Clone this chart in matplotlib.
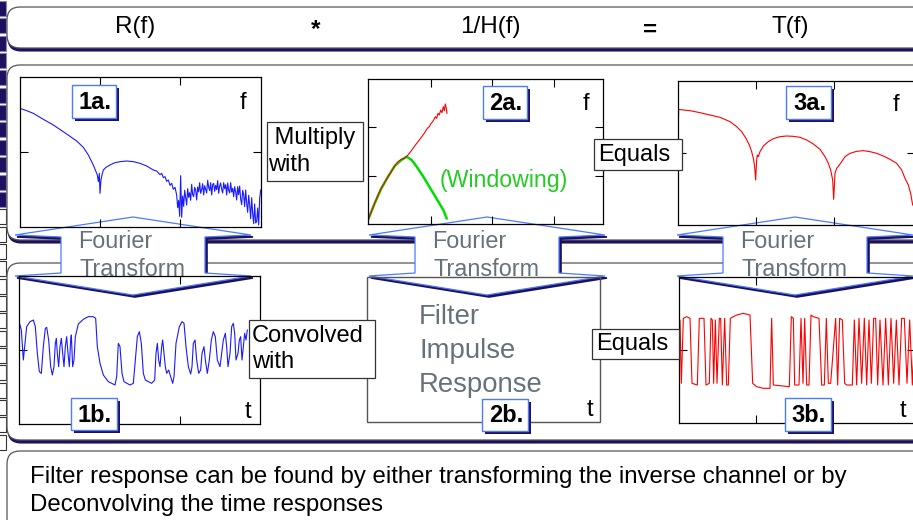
import numpy as np
import matplotlib
matplotlib.use("Agg")
import matplotlib.pyplot as plt
from matplotlib.patches import FancyBboxPatch, Polygon, Rectangle

plt.rcParams['font.family'] = ['Liberation Sans', 'DejaVu Sans']

# ---------------- data ----------------
# 1a: received spectrum R(f)  (frequency bin, level dB)
r_f = [0, 0, 20, 40, 70, 100, 140, 170, 190, 205, 215, 222, 228, 232, 235, 238, 240, 243,
       246, 250, 258, 270, 285, 300, 320, 340, 360, 380, 400, 410, 420, 425, 430, 435, 440,
       445, 450, 455, 460, 465,
       470, 473, 476, 479, 482, 485, 488, 491, 494, 497, 500, 503, 506, 509, 512, 515, 518,
       521, 524, 527, 530, 533, 536, 539, 542, 545, 548, 551, 554, 557, 560, 563, 566, 569,
       572, 575, 578, 581, 584, 587, 590, 593, 596, 599, 602, 605, 608, 611, 614, 617, 620,
       623, 626, 629, 632, 635, 638, 641, 644, 647, 650, 653, 656, 659, 662, 665, 668, 671,
       674, 677, 680, 683, 686, 689, 692, 695, 698, 701, 704, 707, 710, 713, 716, 719, 722]
r_db = [-19.0, -14.5, -15.2, -16.0, -17.8, -19.5, -22.2, -24.3, -26.2, -28.5, -30.5, -32.0,
        -33.5, -34.5, -36.5, -34.0, -40.0, -36.0, -34.5, -33.0, -32.2, -31.5, -30.8, -30.5,
        -30.3, -30.5, -31.0, -31.8, -33.0, -33.3, -34.4, -34.0, -35.3, -35.0, -36.4, -36.0,
        -37.6, -37.0, -38.8, -38.2,
        -40.5, -44.3, -42.1, -46.9, -34.7, -47.2, -40.8, -43.9, -39.1, -41.3, -43.5, -38.6,
        -41.2, -39.8, -42.1, -37.3, -40.4, -41.0, -38.2, -39.0, -42.0, -38.1, -39.6, -36.8,
        -40.0, -38.9, -37.1, -40.5, -37.7, -38.8, -39.9, -36.1, -38.2, -39.2, -36.8, -40.5,
        -37.4, -37.0, -39.4, -37.6, -38.9, -36.2, -40.0, -37.8, -36.9, -38.8, -39.9, -36.8,
        -38.6, -37.4, -40.5, -36.9, -39.1, -39.9, -36.8, -39.6, -38.5, -41.0, -38.0, -39.6,
        -42.0, -38.0, -40.4, -37.8, -41.7, -43.4, -39.1, -40.4, -44.0, -39.0, -42.8, -45.7,
        -40.6, -43.5, -47.6, -41.3, -46.1, -49.1, -43.2, -48.9, -48.5, -44.4, -49.5, -41.5,
        -39.0]

# 2a: inverse channel 1/H(f) and its windowed version
h_f = [0, 10, 20, 30, 40, 50, 60, 70, 80, 90, 100, 110, 120, 130, 140, 150, 160, 170,
       178, 184, 188, 194, 198, 202, 206, 210, 214, 218, 222, 226, 229, 232, 235, 237]
h_db = [-48.0, -45.5, -43.0, -40.5, -38.5, -36.8, -35.0, -33.5, -31.8, -30.5, -29.8, -29.5,
        -28.5, -27.2, -25.8, -24.5, -23.2, -21.8, -20.5, -20.0, -19.2, -18.5, -17.8, -17.0,
        -17.5, -16.0, -16.5, -15.0, -15.8, -14.0, -15.2, -13.2, -14.5, -16.0]
w_f = [0, 20, 40, 60, 80, 100, 116, 131, 146, 166, 181, 196, 211, 226, 236]
w_db = [-48.0, -43.0, -38.5, -35.0, -31.8, -30.0, -29.0, -30.0, -32.0, -35.0, -37.5,
        -40.0, -42.5, -45.0, -47.5]

# 3a: equalised spectrum T(f)
t_f = [1, 2, 16, 36, 66, 96, 126, 156, 176, 191, 204, 214, 221, 226, 230, 233, 236, 238,
       241, 246, 256, 271, 286, 306, 326, 346, 366, 386, 406, 426, 441, 451, 458, 464, 467,
       471, 476, 484, 491, 501, 516, 536, 556, 576, 596, 616, 636, 656, 671, 681, 691, 698,
       704]
t_db = [-19.5, -14.8, -15.0, -15.2, -15.8, -16.5, -17.2, -18.5, -20.0, -21.5, -23.5,
        -25.5, -27.5, -29.5, -32.0, -36.0, -30.0, -28.5, -29.0, -27.5, -25.8, -24.5, -23.6,
        -23.0, -22.8, -22.9, -23.2, -24.0, -25.2, -26.8, -29.0, -31.0, -33.0, -36.0, -41.8,
        -34.0, -32.5, -31.5, -30.5, -29.0, -28.0, -27.4, -27.2, -27.5, -28.0, -28.8, -29.8,
        -31.0, -33.0, -35.5, -37.5, -40.0, -43.5]

# 1b: received time signal (sample, amplitude)
rx_t = [1, 7, 13, 17, 23, 33, 43, 49, 55, 61, 67, 73, 79, 83, 89, 95, 100, 105, 109, 112,
        115, 119, 123, 127, 131, 135, 139, 143, 147, 151, 155, 157, 161, 165, 169, 178, 193,
        208, 223, 230, 235, 243, 253, 268, 288, 293, 298, 303, 309, 315, 333, 343, 349, 355,
        361, 367, 373, 379, 398, 407, 411, 415, 419, 423, 428, 431, 435, 439, 443, 449, 455,
        461, 465, 471, 481, 489, 495, 501, 508, 515, 519, 523, 528, 533, 539, 545, 549, 555,
        559, 565, 571, 577, 583, 589, 595, 603, 608, 613, 619, 623, 627, 633, 638, 643, 647,
        651, 657, 661, 665, 669, 673, 677, 681, 685]
rx_a = [0.92, 0.70, -0.20, 0.20, 0.80, 0.95, 1.00, 0.80, 0.00, -0.55, -0.60, 0.20, 0.75,
        0.78, 0.40, -0.40, -0.65, -0.40, 0.30, 0.45, 0.00, -0.40, 0.20, 0.45, 0.00, -0.40,
        0.20, 0.50, 0.00, -0.40, 0.40, 0.55, -0.40, -0.20, 0.50, 0.88, 1.02, 1.10, 1.10,
        1.05, 0.20, -0.30, -0.65, -0.85, -0.95, -0.70, 0.30, 0.20, -0.60, -0.85, -0.95,
        -0.90, -0.20, 0.50, 0.65, 0.30, -0.60, -0.80, -0.90, -0.80, 0.00, 0.30, -0.20,
        -0.40, 0.20, 0.40, 0.00, -0.40, -0.60, -0.50, -0.70, -0.90, -0.70, 0.30, 0.80,
        0.95, 0.90, 0.20, -0.40, -0.62, -0.40, 0.30, 0.40, -0.20, -0.60, -0.50, 0.00, 0.20,
        -0.20, -0.60, -0.20, 0.40, 0.65, 0.50, -0.20, -0.40, 0.00, 0.40, 0.60, 0.20, -0.40,
        0.00, 0.80, 0.90, 0.60, -0.20, 0.00, 0.40, 0.50, -0.20, 0.20, 0.60, 0.40, 0.70]

# 3b: equalised time signal (sample, amplitude)
eq_t = [0, 3, 7, 13, 23, 33, 39, 55, 61, 75, 81, 91, 96, 100, 104, 109, 114, 121, 125,
        130, 137, 143, 148, 154, 173, 193, 213, 221, 233, 253, 273, 278, 283, 331, 337,
        343, 347, 360, 366, 372, 377, 383, 390, 396, 402, 420, 428, 436, 442, 448, 455,
        470, 476, 482, 490, 497, 503, 520, 526, 533, 540, 548, 556, 563, 570, 577, 584,
        590, 596, 603, 612, 620, 628, 636, 644, 652, 660, 668, 676, 684, 692, 700, 708]
eq_a = [-0.60, 1.00, -0.90, 1.05, 1.10, 1.05, -0.90, -0.95, 1.05, 1.05, -0.95, -0.90,
        1.05, 1.00, -0.90, 1.00, -0.90, 1.05, 1.05, -0.95, 1.05, -0.95, -0.95, 1.05, 1.15,
        1.20, 1.15, -0.90, -1.00, -1.05, -1.05, 1.05, -0.95, -1.00, 1.10, 1.05, -0.95,
        -0.95, 1.05, -0.90, 1.05, -0.95, -0.95, 1.15, 1.10, 1.05, -0.95, -0.95, 1.05,
        -0.90, -0.90, 1.05, -0.95, 1.05, 1.00, -0.90, -0.95, -0.95, 1.00, -0.95, 1.05,
        -0.90, 1.05, -0.95, 1.00, -0.90, 1.05, 1.05, -0.95, 1.00, -0.95, 1.05, -0.95,
        1.05, -0.90, 1.00, -0.95, 1.05, 1.05, -0.90, 1.00, -0.95, 1.05]

headers = ["R(f)", "*", "1/H(f)", "=", "T(f)"]
footer = ["Filter response can be found by either transforming the inverse channel or by",
          "Deconvolving the time responses"]

# ---------------- style ----------------
W, H = 913, 520
NAVY = '#1e1060'
BLUE = '#4b7bff'
GREY_TXT = '#66727a'
EDGE = '#555555'

fig = plt.figure(figsize=(W / 100, H / 100), dpi=100)


def pixel_layer(z):
    a = fig.add_axes([0, 0, 1, 1], zorder=z)
    a.set_xlim(0, W)
    a.set_ylim(H, 0)
    a.axis('off')
    a.patch.set_alpha(0)
    return a


bg = pixel_layer(0)
fg = pixel_layer(5)

# left navigation strip
for i in range(26):
    y = 1 + i * 17.35
    dark = i < 12
    bg.add_patch(Rectangle((-4, y), 10, 15, fc=NAVY if dark else 'white',
                           ec='#8a86b0' if dark else '#333333', lw=0.8, zorder=1))


def panel(x0, y0, x1, y1, shadow=True):
    kw = dict(boxstyle='round,pad=0,rounding_size=13')
    if shadow:
        bg.add_patch(FancyBboxPatch((x0 + 1, y0 + 3), x1 - x0, y1 - y0, fc=NAVY, ec=NAVY,
                                    lw=0.8, zorder=2, **kw))
    bg.add_patch(FancyBboxPatch((x0, y0), x1 - x0, y1 - y0, fc='white', ec=EDGE,
                                lw=0.9, zorder=3, **kw))


panel(7, 7, 940, 48)
panel(7, 65, 940, 240)
panel(7, 263, 940, 440)
panel(7, 451, 940, 560, shadow=False)

# header row
for x, s in zip([135, 316, 490, 650, 790], headers):
    bold = s in ('*', '=')
    bg.text(x, 27 if not bold else 30, s, ha='center', va='center', fontsize=17.5,
            fontweight='bold' if bold else 'normal', zorder=4)

# footer
bg.text(30, 477, footer[0], ha='left', va='center', fontsize=17.3, zorder=4)
bg.text(30, 505, footer[1], ha='left', va='center', fontsize=17.3, zorder=4)


# Fourier-transform double arrows
def ft_arrow(cx, ww=118, sw=72):
    pts = [(cx, 217), (cx + ww, 235), (cx + sw, 237), (cx + sw, 273), (cx + ww, 276),
           (cx, 295), (cx - ww, 276), (cx - sw, 273), (cx - sw, 237), (cx - ww, 235)]
    bg.add_patch(Polygon([(x + 2, y + 2) for x, y in pts], closed=True, fc=NAVY, ec=NAVY,
                         lw=1.2, zorder=5))
    bg.add_patch(Polygon(pts, closed=True, fc='white', ec=BLUE, lw=0.9, zorder=6))
    bg.text(cx - 55, 242, "Fourier", ha='left', va='center', fontsize=16.8, color=GREY_TXT,
            zorder=7)
    bg.text(cx - 53, 270, "Transform", ha='left', va='center', fontsize=16.8,
            color=GREY_TXT, zorder=7)


for cx in (133, 487, 795):
    ft_arrow(cx)


def chart(x0, y0, x1, y1, xlim, ylim, xt, yt):
    a = fig.add_axes([x0 / W, 1 - y1 / H, (x1 - x0) / W, (y1 - y0) / H], zorder=2)
    a.patch.set_alpha(0)
    a.set_xlim(*xlim)
    a.set_ylim(*ylim)
    a.set_xticks(xt)
    a.set_yticks(yt)
    a.tick_params(direction='in', length=6, width=0.8, top=True, right=True,
                  labelbottom=False, labelleft=False)
    for s in a.spines.values():
        s.set_linewidth(0.9)
    return a


a1 = chart(20, 77, 261, 227, (0, 723), (-50.1, -5.1), [240, 481], [-27.5])
a1.plot(r_f, r_db, color='#1a1aff', lw=0.8)

a2 = chart(368, 79, 603, 224, (0, 705), (-49.2, -5.7), [188, 373, 559], [-20.2, -34.8])
a2.plot(w_f, w_db, color='#00dd00', lw=1.8)
a2.plot(h_f, h_db, color='#ff0000', lw=0.8)

a3 = chart(678, 81, 915, 225, (0, 711), (-49.5, -6.3), [233, 469], [-27.8])
a3.plot(t_f, t_db, color='#ff0000', lw=0.8)

b1 = chart(19, 276, 260, 424, (0, 723), (-2.12, 2.32), [483], [0.1])
b1.plot(rx_t, rx_a, color='#1a1aff', lw=0.8)

b3 = chart(679, 277, 915, 423, (0, 708), (-2.09, 2.29), [231], [0.1])
b3.plot(eq_t, eq_a, color='#ff0000', lw=0.8)

# 2b: empty frame with caption
fg.add_patch(Rectangle((367, 277), 233, 145, fc='none', ec='#555555', lw=1.0, zorder=1))
for k, s in enumerate(["Filter", "Impulse", "Response"]):
    fg.text(419, 317 + 34 * k, s, ha='left', va='center', fontsize=19.8, color=GREY_TXT)

# axis letters
for x, y, s in [(243, 103, 'f'), (586, 104, 'f'), (896, 105, 'f'),
                (248, 412, 't'), (590, 410, 't'), (903, 411, 't')]:
    fg.text(x, y, s, ha='center', va='center', fontsize=17)

fg.text(504, 180, "(Windowing)", ha='center', va='center', fontsize=16.7, color='#22cc22')


def note(x0, y0, x1, y1, lines, dx=4):
    fg.add_patch(Rectangle((x0, y0), x1 - x0, y1 - y0, fc='white', ec='#333333', lw=0.9,
                           zorder=2))
    n = len(lines)
    for k, s in enumerate(lines):
        yc = (y0 + y1) / 2 + (k - (n - 1) / 2) * 27
        fg.text(x0 + dx, yc, s, ha='left', va='center', fontsize=17, zorder=3)


note(267, 122, 363, 181, [" Multiply", "with"], dx=1)
note(594, 139, 682, 170, ["Equals"])
note(249, 320, 375, 378, ["Convolved", "with"], dx=3)
note(592, 329, 679, 359, ["Equals"])


def tag(x0, y0, x1, y1, s):
    fg.add_patch(Rectangle((x0 + 3, y0 + 3), x1 - x0, y1 - y0, fc=NAVY, ec='none', zorder=4))
    fg.add_patch(Rectangle((x0, y0), x1 - x0, y1 - y0, fc='white', ec=BLUE, lw=1.0, zorder=5))
    fg.text((x0 + x1) / 2 + 1, (y0 + y1) / 2 + 1, s, ha='center', va='center', fontsize=17,
            fontweight='bold', zorder=6)


tag(72, 85, 116, 118, "1a.")
tag(483, 86, 527, 119, "2a.")
tag(786, 86, 831, 119, "3a.")
tag(71, 398, 117, 430, "1b.")
tag(482, 399, 528, 431, "2b.")
tag(785, 398, 831, 431, "3b.")

fig.savefig("out.png", dpi=100)
